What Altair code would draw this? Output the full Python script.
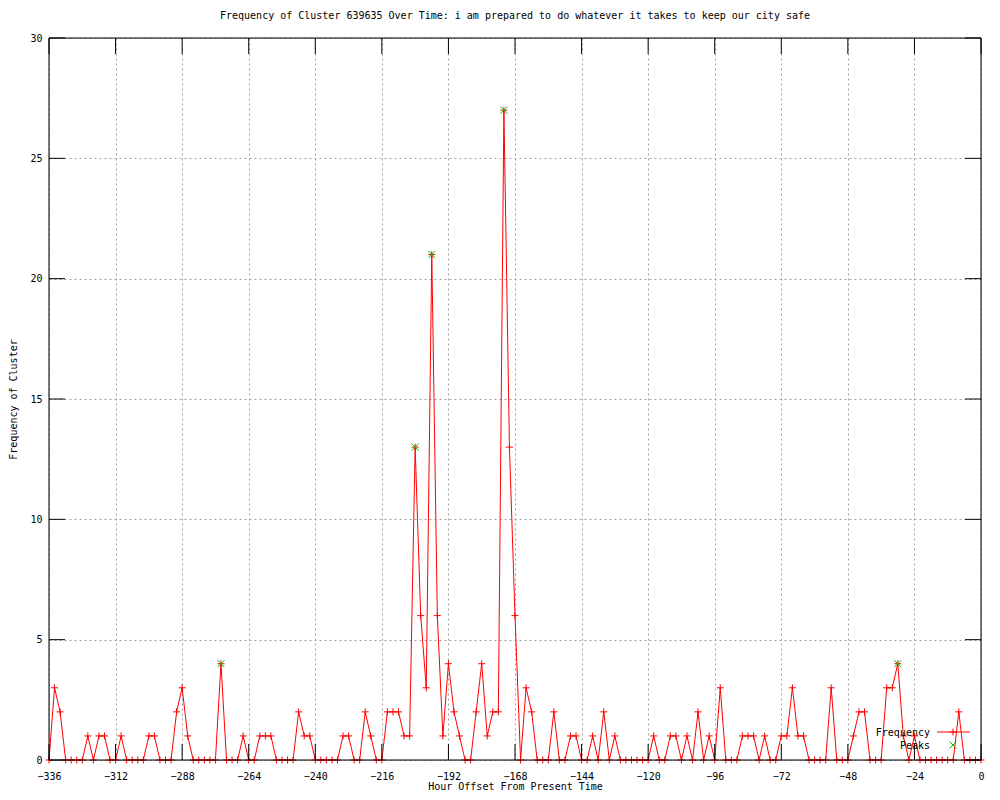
import altair as alt
import pandas as pd

# ---- data -------------------------------------------------------------
hours = list(range(-336, 1, 2))  # one observation every 2 hours
freq = [
    0, 3, 2, 0, 0, 0, 0, 1, 0, 1,   # -336 .. -318
    1, 0, 0, 1, 0, 0, 0, 0, 1, 1,   # -316 .. -298
    0, 0, 0, 2, 3, 1, 0, 0, 0, 0,   # -296 .. -278
    0, 4, 0, 0, 0, 1, 0, 0, 1, 1,   # -276 .. -258
    1, 0, 0, 0, 0, 2, 1, 1, 0, 0,   # -256 .. -238
    0, 0, 0, 1, 1, 0, 0, 2, 1, 0,   # -236 .. -218
    0, 2, 2, 2, 1, 1, 13, 6, 3, 21, # -216 .. -198
    6, 1, 4, 2, 1, 0, 0, 2, 4, 1,   # -196 .. -178
    2, 2, 27, 13, 6, 0, 3, 2, 0, 0, # -176 .. -158
    0, 2, 0, 0, 1, 1, 0, 0, 1, 0,   # -156 .. -138
    2, 0, 1, 0, 0, 0, 0, 0, 0, 1,   # -136 .. -118
    0, 0, 1, 1, 0, 1, 0, 2, 0, 1,   # -116 .. -98
    0, 3, 0, 0, 0, 1, 1, 1, 0, 1,   # -96 .. -78
    0, 0, 1, 1, 3, 1, 1, 0, 0, 0,   # -76 .. -58
    0, 3, 0, 0, 0, 1, 2, 2, 0, 0,   # -56 .. -38
    0, 3, 3, 4, 1, 0, 1, 0, 0, 0,   # -36 .. -18
    0, 0, 0, 0, 2, 0, 0, 0, 0,      # -16 .. 0
]
peak_hours = [-274, -204, -198, -172, -30]
peak_values = [4, 13, 21, 27, 4]

x_ticks = [-336, -312, -288, -264, -240, -216, -192, -168, -144, -120, -96, -72, -48, -24, 0]
y_ticks = [0, 5, 10, 15, 20, 25, 30]

title_text = "Frequency of Cluster 639635 Over Time: i am prepared to do whatever it takes to keep our city safe"
x_title = "Hour Offset From Present Time"
y_title = "Frequency of Cluster"
legend_labels = ["Frequency", "Peaks"]

# ---- styling ----------------------------------------------------------
FONT = "DejaVu Sans Mono"
FS = 10
W, H = 932, 722
TICK = 16
RED = "#ff0000"
GREEN = "#00c000"
PLUS = "M-1,0L1,0M0,-1L0,1"
CROSS = "M-1,-1L1,1M-1,1L1,-1"

freq_df = pd.DataFrame({"hour": hours, "freq": freq})
peak_df = pd.DataFrame({"hour": peak_hours, "freq": peak_values})
xt_df = pd.DataFrame({"hour": x_ticks})
yt_df = pd.DataFrame({"freq": y_ticks})
one = pd.DataFrame({"k": [0]})

xs = alt.Scale(domain=[-336, 0], nice=False, zero=False)
ys = alt.Scale(domain=[0, 30], nice=False, zero=False)

x_axis = alt.Axis(
    values=x_ticks, title=x_title, grid=True, gridDash=[2, 3], gridColor="#a0a0a0",
    gridOpacity=1, ticks=False, tickSize=0, domain=False, labelPadding=11,
    labelFont=FONT, labelFontSize=FS, labelColor="black", titleFont=FONT,
    titleFontSize=FS, titleFontWeight="normal", titleColor="black",
    titleX=W / 2, titleY=26, titleBaseline="middle", titleAlign="center",
    labelFlush=False, labelOverlap=False,
)
y_axis = alt.Axis(
    values=y_ticks, title=y_title, grid=True, gridDash=[2, 3], gridColor="#a0a0a0",
    gridOpacity=1, ticks=False, tickSize=0, domain=False, labelPadding=7,
    labelFont=FONT, labelFontSize=FS, labelColor="black", titleFont=FONT,
    titleFontSize=FS, titleFontWeight="normal", titleColor="black",
    titleX=-36, titleY=H / 2, titleAngle=270, titleBaseline="middle", titleAlign="center",
    labelFlush=False, labelOverlap=False,
)

X = alt.X("hour:Q", scale=xs, axis=x_axis)
Y = alt.Y("freq:Q", scale=ys, axis=y_axis)

line = alt.Chart(freq_df).mark_line(color=RED, strokeWidth=1).encode(x=X, y=Y)
pts = alt.Chart(freq_df).mark_point(
    shape=PLUS, size=49, color=RED, filled=False, strokeWidth=1, opacity=1
).encode(x=X, y=Y)
peaks = alt.Chart(peak_df).mark_point(
    shape=CROSS, size=49, color=GREEN, filled=False, strokeWidth=1, opacity=1
).encode(x=X, y=Y)

xt_bottom = alt.Chart(xt_df).mark_rule(color="black", strokeWidth=1).encode(
    x=X, y=alt.value(H), y2=alt.value(H - TICK))
xt_top = alt.Chart(xt_df).mark_rule(color="black", strokeWidth=1).encode(
    x=X, y=alt.value(0), y2=alt.value(TICK))
yt_left = alt.Chart(yt_df).mark_rule(color="black", strokeWidth=1).encode(
    y=Y, x=alt.value(0), x2=alt.value(TICK))
yt_right = alt.Chart(yt_df).mark_rule(color="black", strokeWidth=1).encode(
    y=Y, x=alt.value(W), x2=alt.value(W - TICK))

border = alt.Chart(one).mark_rect(
    fillOpacity=0, stroke="black", strokeWidth=1
).encode(x=alt.value(0), x2=alt.value(W), y=alt.value(0), y2=alt.value(H))

# manual gnuplot-style key (text left, sample right)
key_text1 = alt.Chart(one).mark_text(
    text=legend_labels[0], font=FONT, fontSize=FS, align="right", baseline="middle", color="black"
).encode(x=alt.value(881), y=alt.value(695))
key_text2 = alt.Chart(one).mark_text(
    text=legend_labels[1], font=FONT, fontSize=FS, align="right", baseline="middle", color="black"
).encode(x=alt.value(881), y=alt.value(708))
key_line = alt.Chart(one).mark_rule(color=RED, strokeWidth=1).encode(
    x=alt.value(888), x2=alt.value(921), y=alt.value(694))
key_plus = alt.Chart(one).mark_point(
    shape=PLUS, size=49, color=RED, filled=False, strokeWidth=1, opacity=1
).encode(x=alt.value(904), y=alt.value(694))
key_cross = alt.Chart(one).mark_point(
    shape=CROSS, size=49, color=GREEN, filled=False, strokeWidth=1, opacity=1
).encode(x=alt.value(904), y=alt.value(707))

chart = alt.layer(
    line, pts, peaks, xt_bottom, xt_top, yt_left, yt_right,
    key_text1, key_text2, key_line, key_plus, key_cross, border,
).properties(
    width=W, height=H,
    title=alt.Title(title_text, font=FONT, fontSize=FS, fontWeight="normal",
                    anchor="middle", frame="group", color="black", offset=12),
    autosize=alt.AutoSizeParams(type="none"),
    padding={"left": 41, "top": 30, "right": 10, "bottom": 32},
).configure_view(stroke=None).configure(background="white")

chart.save("out.html", embed_options={"renderer": "svg", "actions": False})
